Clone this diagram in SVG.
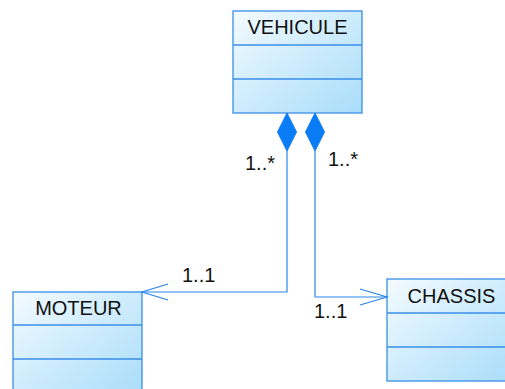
<svg xmlns="http://www.w3.org/2000/svg" width="505" height="389" viewBox="0 0 505 389">
<defs>
<linearGradient id="g" x1="0" y1="0" x2="1" y2="1">
<stop offset="0" stop-color="#f4fbff"/>
<stop offset="0.6" stop-color="#c6e9fc"/>
<stop offset="1" stop-color="#a9ddfa"/>
</linearGradient>
<style>
.box{fill:url(#g);stroke:#3a8ee8;stroke-width:1.3}
.sep{stroke:#3a8ee8;stroke-width:1.3}
.t{font-family:"Liberation Sans",Arial,sans-serif;font-size:20px;fill:#111}
.c{fill:none;stroke:#2a86ee;stroke-width:1.2}
.d{fill:#0a7cf5;stroke:#0a7cf5;stroke-width:1}
</style>
</defs>
<g id="VEHICULE">
<rect class="box" x="233" y="11" width="129" height="102"/>
<line class="sep" x1="233" y1="45" x2="362" y2="45"/>
<line class="sep" x1="233" y1="79" x2="362" y2="79"/>
<text class="t" x="297.5" y="34" text-anchor="middle">VEHICULE</text>
</g>
<g id="MOTEUR">
<rect class="box" x="13" y="292" width="129" height="102"/>
<line class="sep" x1="13" y1="325" x2="142" y2="325"/>
<line class="sep" x1="13" y1="359" x2="142" y2="359"/>
<text class="t" x="78.5" y="314.5" text-anchor="middle">MOTEUR</text>
</g>
<g id="CHASSIS">
<rect class="box" x="387" y="279" width="129" height="102"/>
<line class="sep" x1="387" y1="313" x2="516" y2="313"/>
<line class="sep" x1="387" y1="347" x2="516" y2="347"/>
<text class="t" x="451.5" y="302.5" text-anchor="middle">CHASSIS</text>
</g>
<g id="connectors">
<polyline class="c" points="287,151 287,292 142,292"/>
<polyline class="c" points="168,284 142,292 168,300"/>
<polygon class="d" points="287,113 296.5,132 287,151 277.5,132"/>
<polyline class="c" points="315,151 315,297 387,297"/>
<polyline class="c" points="360,289 387,297 360,305"/>
<polygon class="d" points="315,113 324.5,132 315,151 305.5,132"/>
<text class="t" x="245" y="170">1..*</text>
<text class="t" x="328" y="166">1..*</text>
<text class="t" x="182" y="282">1..1</text>
<text class="t" x="314" y="318">1..1</text>
</g>
</svg>
